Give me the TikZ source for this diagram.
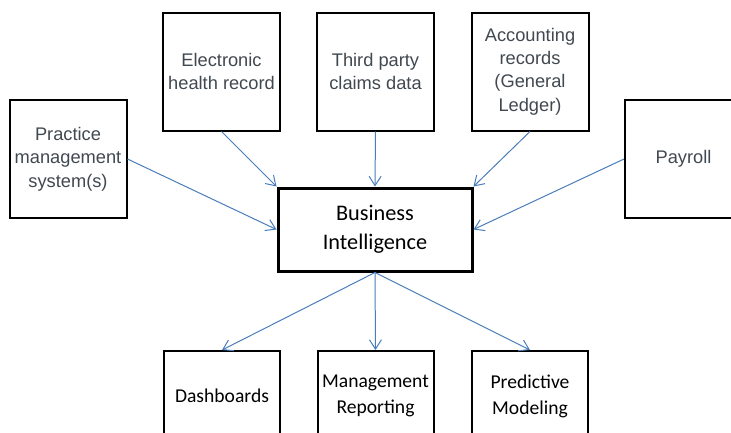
\documentclass[tikz,border=0pt]{standalone}
\usepackage{fontspec}
\setmainfont{Liberation Sans}
\newfontfamily\calibri{Carlito}
\usetikzlibrary{arrows.meta}
\definecolor{linkblue}{RGB}{74,126,187}
\definecolor{srctext}{RGB}{64,72,80}

\begin{document}
\begin{tikzpicture}[x=0.75pt,y=-0.75pt,
    source/.style={draw,line width=1.5pt,minimum width=87.75pt,minimum height=88.5pt,
      inner sep=0pt,align=center,text=srctext,font=\fontsize{13.7}{17.6}\selectfont},
    output/.style={draw,line width=1.5pt,minimum width=87pt,minimum height=67.5pt,
      inner sep=0pt,align=center,font=\calibri\fontsize{14.7}{19.5}\selectfont},
    hub/.style={draw,line width=2.25pt,minimum width=145.5pt,minimum height=62.25pt,
      inner sep=0pt,align=center,font=\calibri\fontsize{16.7}{21.7}\selectfont},
    link/.style={linkblue,line width=0.75pt,-{Straight Barb[length=7pt,width=9pt]}}]
  \useasboundingbox (0,0) rectangle (731,432);
  \clip (0,0) rectangle (731,432);

  \node[source] (pms) at (68,159)    {Practice\\management\\system(s)};
  \node[source] (ehr) at (221.5,71.5) {Electronic\\health record};
  \node[source] (tpc) at (375.5,71.5) {Third party\\claims data};
  \node[source] (acc) at (530,71.5)   {Accounting\\records\\(General\\Ledger)};
  \node[source] (pay) at (683.5,159)  {Payroll};

  \node[hub] (bi) at (375,229.5) {Business\\Intelligence};

  \node[output] (dash) at (222,396)   {Dashboards};
  \node[output] (mgmt) at (375.5,396) {Management\\Reporting};
  \node[output] (pred) at (530,396)   {Predictive\\Modeling};

  \draw[link] (ehr.south) -- (bi.north west);
  \draw[link] (tpc.south) -- (bi.north);
  \draw[link] (acc.south) -- (bi.north east);
  \draw[link] (pms.east) -- (bi.west);
  \draw[link] (pay.west) -- (bi.east);

  \draw[link] (bi.south) -- (dash.north);
  \draw[link] (bi.south) -- (mgmt.north);
  \draw[link] (bi.south) -- (pred.north);
\end{tikzpicture}
\end{document}
